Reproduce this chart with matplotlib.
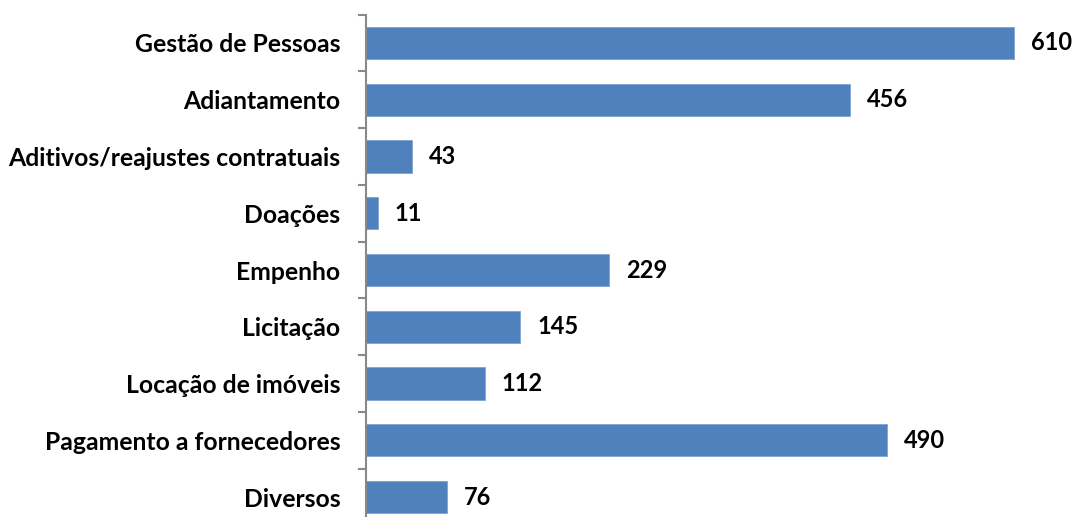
import numpy as np
import matplotlib
matplotlib.use("Agg")
import matplotlib.pyplot as plt

categorias = ["Gestão de Pessoas", "Adiantamento", "Aditivos/reajustes contratuais",
              "Doações", "Empenho", "Licitação", "Locação de imóveis",
              "Pagamento a fornecedores", "Diversos"]
valores = [610, 456, 43, 11, 229, 145, 112, 490, 76]

plt.rcParams['font.family'] = ['Lato', 'DejaVu Sans']

fig = plt.figure(figsize=(10.72, 5.17), dpi=100)
W, H = 1072, 517
x0, top, bot = 366, 14.6, 525.4
ax = fig.add_axes([x0 / W, 1 - bot / H, (W - x0) / W, (bot - top) / H])

y = np.arange(len(categorias))
ax.barh(y, valores, height=0.57, color="#4F81BD", edgecolor="#7FA3D0", linewidth=0.6)
for yi, v in zip(y, valores):
    ax.text(v + 16, yi, str(v), va="center", ha="left", fontsize=17, fontweight="bold")

ax.set_xlim(0, (W - x0) / (648 / 610))
ax.set_ylim(len(categorias) - 0.5, -0.5)
ax.set_yticks(y)
ax.set_yticklabels(categorias, fontsize=17.8, fontweight="bold")
ax.set_yticks(np.arange(len(categorias) + 1) - 0.5, minor=True)
ax.tick_params(axis="y", which="major", length=0, pad=18.5)
ax.tick_params(axis="y", which="minor", length=6, width=1.5, color="#898989")
ax.set_xticks([])
for s in ["top", "right", "bottom"]:
    ax.spines[s].set_visible(False)
ax.spines["left"].set_color("#898989")
ax.spines["left"].set_linewidth(1.5)

fig.savefig("out.png", dpi=100)
